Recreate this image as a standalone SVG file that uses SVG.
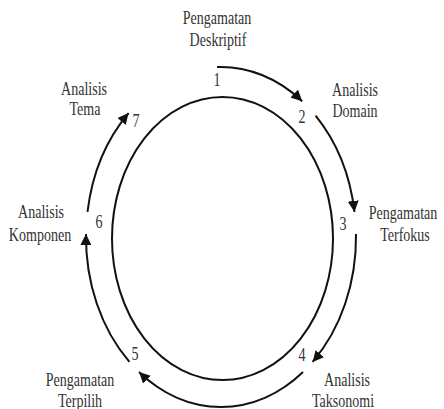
<svg xmlns="http://www.w3.org/2000/svg" width="444" height="409" viewBox="0 0 444 409">
<defs>
<marker id="ah" markerUnits="userSpaceOnUse" markerWidth="12" markerHeight="11" refX="11" refY="5.5" orient="auto">
<path d="M0,0 L11,5.5 L0,11 z" fill="#111"/>
</marker>
<style>
.t{font-family:"Liberation Serif","Times New Roman",serif;font-size:18px;fill:#333;text-anchor:middle}
.c{fill:none;stroke:#111;stroke-width:2}
.a{fill:none;stroke:#111;stroke-width:2;marker-end:url(#ah)}
</style>
</defs>
<rect width="444" height="409" fill="#fff"/>
<g id="cycle">
<ellipse class="c" cx="222.5" cy="238.5" rx="110.5" ry="141.5"/>
</g>
<g id="connectors">
<path class="a" d="M217,67.1 A135,170 0 0 1 302.2,101.2"/>
<path class="a" d="M315.6,115.7 A135,170 0 0 1 354.5,211.9"/>
<path class="a" d="M356,234 A135,170 0 0 1 312.6,361.9"/>
<path class="a" d="M303,372 A135,170 0 0 1 139,372"/>
<path class="a" d="M129.4,361.9 A135,170 0 0 1 86,234"/>
<path class="a" d="M87.5,211.9 A135,170 0 0 1 128.6,113.1"/>
</g>
<g id="n1">
<text class="t" transform="translate(217,24) scale(0.78,1)">Pengamatan</text>
<text class="t" transform="translate(218,46) scale(0.78,1)">Deskriptif</text>
<text class="t" transform="translate(217,86) scale(0.78,1)">1</text>
</g>
<g id="n2">
<text class="t" transform="translate(355,96) scale(0.78,1)">Analisis</text>
<text class="t" transform="translate(355,117) scale(0.78,1)">Domain</text>
<text class="t" transform="translate(302,123) scale(0.78,1)">2</text>
</g>
<g id="n3">
<text class="t" transform="translate(403,219) scale(0.78,1)">Pengamatan</text>
<text class="t" transform="translate(405,241) scale(0.78,1)">Terfokus</text>
<text class="t" transform="translate(343,230) scale(0.78,1)">3</text>
</g>
<g id="n4">
<text class="t" transform="translate(347,386) scale(0.78,1)">Analisis</text>
<text class="t" transform="translate(343,407) scale(0.78,1)">Taksonomi</text>
<text class="t" transform="translate(302,361) scale(0.78,1)">4</text>
</g>
<g id="n5">
<text class="t" transform="translate(80,386) scale(0.78,1)">Pengamatan</text>
<text class="t" transform="translate(80,407) scale(0.78,1)">Terpilih</text>
<text class="t" transform="translate(135,360) scale(0.78,1)">5</text>
</g>
<g id="n6">
<text class="t" transform="translate(41,218) scale(0.78,1)">Analisis</text>
<text class="t" transform="translate(40,241) scale(0.78,1)">Komponen</text>
<text class="t" transform="translate(99,228) scale(0.78,1)">6</text>
</g>
<g id="n7">
<text class="t" transform="translate(84,95) scale(0.78,1)">Analisis</text>
<text class="t" transform="translate(85,115) scale(0.78,1)">Tema</text>
<text class="t" transform="translate(136,127) scale(0.78,1)">7</text>
</g>
</svg>
